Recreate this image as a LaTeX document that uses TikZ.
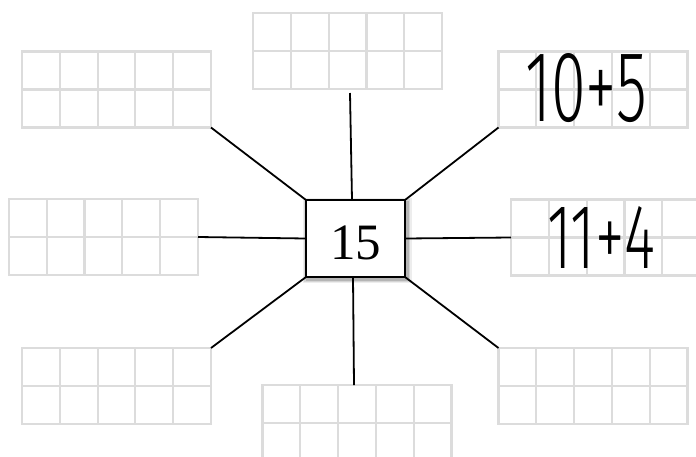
\documentclass[tikz,border=0pt]{standalone}
\usepackage{fontspec}
\usepackage{graphicx}
\setmainfont{Liberation Serif}
\IfFontExistsTF{Fira Sans Light}{\newfontfamily\handfont{Fira Sans Light}}{%
 \IfFontExistsTF{Lato Light}{\newfontfamily\handfont{Lato Light}}{%
  \IfFontExistsTF{Open Sans Light}{\newfontfamily\handfont{Open Sans Light}}{%
   \IfFontExistsTF{Poppins Light}{\newfontfamily\handfont{Poppins Light}}{%
    \IfFontExistsTF{DejaVu Sans ExtraLight}{\newfontfamily\handfont{DejaVu Sans ExtraLight}}{%
     \newfontfamily\handfont{Fira Sans}}}}}}
\usetikzlibrary{calc,shadows}
\definecolor{gridgray}{HTML}{DCDCDC}
\newcommand{\bignum}{\fontsize{51}{51}\selectfont}
\tikzset{
  tenframe/.style={draw=gridgray, line width=2.2pt, minimum width=189pt, minimum height=76pt,
    inner sep=0pt, outer sep=0pt,
    path picture={
      \foreach \i in {1,2,3,4}{
        \draw[gridgray, line width=2.2pt]
          ($(path picture bounding box.south west)!\i/5!(path picture bounding box.south east)$) --
          ($(path picture bounding box.north west)!\i/5!(path picture bounding box.north east)$);
      }
      \draw[gridgray, line width=2.2pt]
        (path picture bounding box.west) -- (path picture bounding box.east);
    }},
  centerbox/.style={draw=black, line width=2pt, fill=white, minimum width=99pt, minimum height=77pt,
    inner sep=0pt, outer sep=0pt, text height=41pt, text depth=0pt,
    general shadow={shadow xshift=1.5pt, shadow yshift=-2pt, shadow scale=1.10, opacity=0.07, fill=black},
    general shadow={shadow xshift=1.5pt, shadow yshift=-2pt, shadow scale=1.07, opacity=0.10, fill=black},
    general shadow={shadow xshift=1.5pt, shadow yshift=-2pt, shadow scale=1.04, opacity=0.15, fill=black}},
  spoke/.style={draw=black, line width=1.8pt},
  hand/.style={inner sep=0pt, outer sep=0pt}
}
\begin{document}
\begin{tikzpicture}[x=1pt,y=-1pt]
\useasboundingbox (0,0) rectangle (696,456);
\node[tenframe] (tl) at (116.5,89.5) {};
\node[tenframe] (t)  at (347.5,51) {};
\node[tenframe] (tr) at (593,89.5) {};
\node[tenframe] (l)  at (103.5,237) {};
\node[tenframe] (r)  at (605.5,237.5) {};
\node[tenframe] (bl) at (116.5,386) {};
\node[tenframe] (b)  at (357,423) {};
\node[tenframe] (br) at (593,386) {};

\node[centerbox] (c) at (355.5,238.5) {\bignum 15};

\draw[spoke] (tl.south east) -- (c.north west);
\draw[spoke] ($(t.south)+(2.5,4)$) -- ($(c.north)+(-3.5,0)$);
\draw[spoke] (tr.south west) -- (c.north east);
\draw[spoke] (l.east) -- (c.west);
\draw[spoke] (c.east) -- (r.west);
\draw[spoke] (c.south west) -- (bl.north east);
\draw[spoke] (c.south east) -- (br.north west);
\draw[spoke] ($(c.south)+(-2.5,0)$) -- ($(b.north)+(-3,0)$);

\node[hand] (s1) at (586,88.5) {\resizebox{122pt}{68pt}{\handfont 10+5}};
\node[hand] (s2) at (601,237.5) {\resizebox{108pt}{62pt}{\handfont 11+4}};
\end{tikzpicture}
\end{document}
